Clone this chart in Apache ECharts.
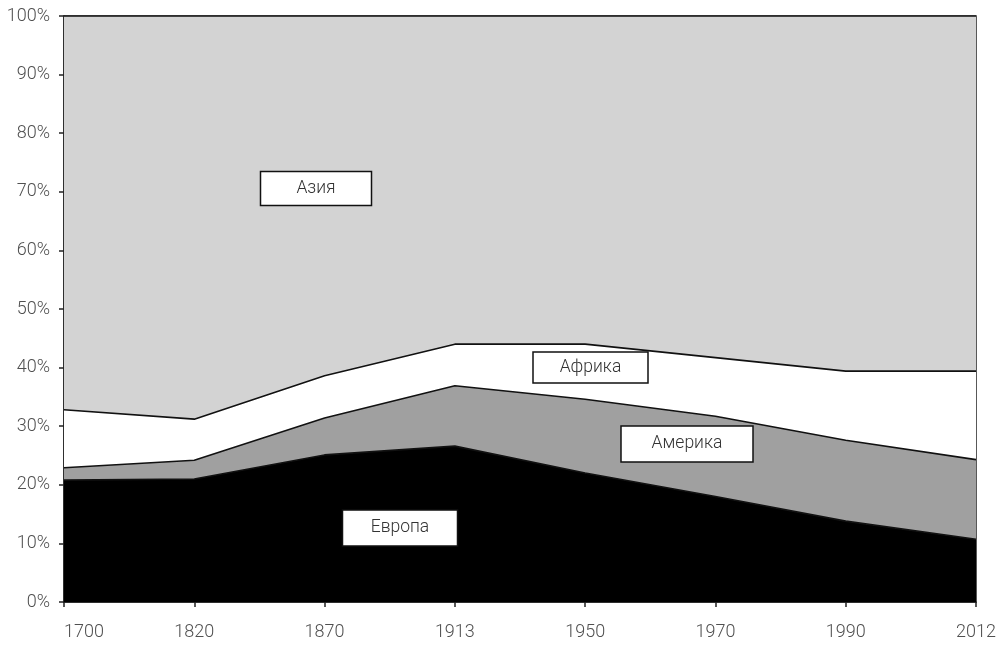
<!DOCTYPE html>
<html>
<head>
<meta charset="utf-8">
<script src="https://cdn.jsdelivr.net/npm/echarts@6/dist/echarts.min.js"></script>
<style>html,body{margin:0;padding:0;background:#fff}#c{width:1000px;height:652px}</style>
</head>
<body>
<div id="c"></div>
<script>
const years = ['1700','1820','1870','1913','1950','1970','1990','2012'];
const europe  = [20.8, 21.0, 25.1, 26.6, 22.0, 18.0, 13.8, 10.7];
const america = [2.1, 3.2, 6.3, 10.3, 12.6, 13.7, 13.8, 13.6];
const africa  = [9.9, 7.0, 7.2, 7.1, 9.4, 10.0, 11.8, 15.1];
const asia    = [67.2, 68.8, 61.4, 56.0, 56.0, 58.3, 60.6, 60.6];
const yTicks = [0,10,20,30,40,50,60,70,80,90,100];

const chart = echarts.init(document.getElementById('c'), null, {renderer:'canvas'});
const font = 'Roboto';
function mk(name, data, color){
  return {
    name, type:'line', stack:'total', data, symbol:'none', smooth:false,
    lineStyle:{color:'#111', width:1.6},
    areaStyle:{color, opacity:1},
    silent:true
  };
}
function box(text, cx, cy, w, h){
  return [
    {type:'rect', z:100, shape:{x:cx - w/2, y:cy - h/2, width:w, height:h}, style:{fill:'#fff', stroke:'#111', lineWidth:1.5}},
    {type:'text', z:101, x:cx, y:cy, style:{text, fill:'#333', fontFamily:font, fontWeight:300, fontSize:17.5, align:'center', verticalAlign:'middle'}}
  ];
}
chart.setOption({
  animation:false,
  grid:{left:64, right:24, top:16, bottom:50, show:true, borderColor:'#222', borderWidth:1.5, backgroundColor:'transparent'},
  xAxis:{
    type:'category', data:years, boundaryGap:false,
    axisLine:{lineStyle:{color:'#222', width:1.5}},
    axisTick:{show:true, length:5, lineStyle:{color:'#222', width:1.5}},
    axisLabel:{color:'#505050', fontFamily:font, fontWeight:300, fontSize:18, margin:21, alignMinLabel:'left'},
    splitLine:{show:false}
  },
  yAxis:{
    type:'value', min:yTicks[0], max:yTicks[yTicks.length-1], interval:10,
    axisLine:{show:true, lineStyle:{color:'#222', width:1.5}},
    axisTick:{show:true, length:5, lineStyle:{color:'#222', width:1.5}},
    axisLabel:{color:'#505050', fontFamily:font, fontWeight:300, fontSize:18, margin:14, formatter:'{value}%'},
    splitLine:{show:false}
  },
  series:[
    mk('Европа', europe, '#000000'),
    mk('Америка', america, '#a0a0a0'),
    mk('Африка', africa, '#ffffff'),
    mk('Азия', asia, '#d3d3d3')
  ],
  graphic:[].concat(
    box('Азия', 316, 188.5, 111, 34),
    box('Европа', 400, 528, 115, 36),
    box('Африка', 590.5, 367.5, 115, 31),
    box('Америка', 687, 444, 132, 36)
  )
});
</script>
</body>
</html>
